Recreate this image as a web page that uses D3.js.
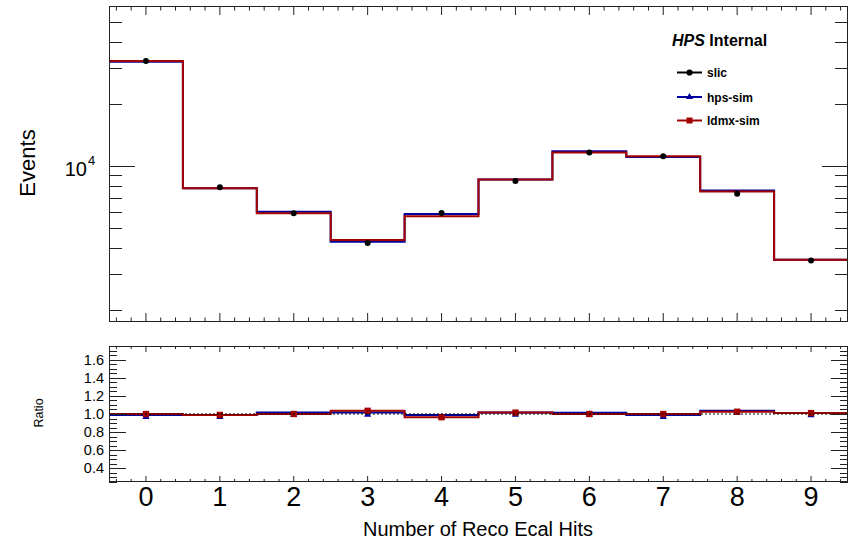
<!DOCTYPE html>
<html>
<head>
<meta charset="utf-8">
<script src="https://cdn.jsdelivr.net/npm/d3@7"></script>
<style>
  body { margin: 0; background: #fff; }
  text { font-family: "Liberation Sans", Arial, Helvetica, sans-serif; fill: #000; }
</style>
</head>
<body>
<svg id="chart" width="853" height="542"></svg>
<script>
// values
var bins = [0, 1, 2, 3, 4, 5, 6, 7, 8, 9];
var xTickLabels = ['0', '1', '2', '3', '4', '5', '6', '7', '8', '9'];
var slic    = [32430, 7880, 5900, 4220, 5910, 8460, 11630, 11170, 7340, 3470];
var hpsSim  = [32110, 7800, 5990, 4285, 5850, 8590, 11800, 11060, 7600, 3505];
var ldmxSim = [32430, 7800, 5900, 4370, 5700, 8590, 11630, 11170, 7525, 3505];
var ratioTickLabels = [0.4, 0.6, 0.8, 1.0, 1.2, 1.4, 1.6];
var legendNames = ['slic', 'hps-sim', 'ldmx-sim'];

var RED = '#a30000', BLUE = '#0000a0', AXIS = '#222';

var svg = d3.select('#chart');
var L = 109, R = 848, T1 = 6, B1 = 322, T2 = 346, B2 = 482;

var x = d3.scaleLinear().domain([-0.5, 9.5]).range([L, R]);
var y = d3.scaleLog().domain([1745, 59950]).range([B1, T1]);
var yr = d3.scaleLinear().domain([0.25, 1.75]).range([B2, T2]);

// clip paths for the two pads
var defs = svg.append('defs');
defs.append('clipPath').attr('id', 'clipTop').append('rect')
    .attr('x', L).attr('y', T1).attr('width', R - L).attr('height', B1 - T1);
defs.append('clipPath').attr('id', 'clipBot').append('rect')
    .attr('x', L).attr('y', T2).attr('width', R - L).attr('height', B2 - T2);

function stepData(vals) {
  var pts = bins.map(function(b, i) { return [b - 0.5, vals[i]]; });
  pts.push([bins[bins.length - 1] + 0.5, vals[vals.length - 1]]);
  return pts;
}
function stepLine(sy) {
  return d3.line().x(function(d) { return x(d[0]); })
    .y(function(d) { return sy(d[1]); }).curve(d3.curveStepAfter);
}

// ticks: draw for both sides of a pad
function xTicks(t, b, majLen, minLen) {
  var g = svg.append('g').attr('stroke', AXIS).attr('stroke-width', 1);
  var minor = x.ticks(50), major = x.ticks(10);
  [[b, -1], [t, 1]].forEach(function(side) {
    g.selectAll(null).data(minor).enter().append('line')
      .attr('x1', function(d) { return x(d); }).attr('x2', function(d) { return x(d); })
      .attr('y1', side[0]).attr('y2', function(d) {
        return side[0] + side[1] * (major.indexOf(d) >= 0 ? majLen : minLen);
      });
  });
}
function yTicks(scale, vals, isMajor, majLen, minLen) {
  var g = svg.append('g').attr('stroke', AXIS).attr('stroke-width', 1);
  [[L, 1], [R, -1]].forEach(function(side) {
    g.selectAll(null).data(vals).enter().append('line')
      .attr('y1', function(d) { return Math.round(scale(d)) + 0.5; })
      .attr('y2', function(d) { return Math.round(scale(d)) + 0.5; })
      .attr('x1', side[0]).attr('x2', function(d) {
        return side[0] + side[1] * (isMajor(d) ? majLen : minLen);
      });
  });
}

// ---------- upper pad ----------
var topPad = svg.append('g').attr('clip-path', 'url(#clipTop)');
topPad.append('path').datum(stepData(hpsSim)).attr('d', stepLine(y))
  .attr('fill', 'none').attr('stroke', BLUE).attr('stroke-width', 2);
topPad.append('path').datum(stepData(ldmxSim)).attr('d', stepLine(y))
  .attr('fill', 'none').attr('stroke', RED).attr('stroke-width', 2);
topPad.selectAll('circle.slic').data(slic).enter().append('circle')
  .attr('cx', function(d, i) { return x(bins[i]); })
  .attr('cy', function(d) { return y(d); })
  .attr('r', 3).attr('fill', '#000');

xTicks(T1, B1, 9, 4.5);
yTicks(y, y.ticks(), function(d) { return d === 10000; }, 26, 13);
svg.append('rect').attr('x', L + 0.5).attr('y', T1 + 0.5)
  .attr('width', R - L - 1).attr('height', B1 - T1 - 1)
  .attr('fill', 'none').attr('stroke', AXIS).attr('stroke-width', 1);

// 10^4 label
svg.append('text').attr('x', 87).attr('y', y(10000) + 10)
  .attr('text-anchor', 'end').attr('font-size', 20).text('10');
svg.append('text').attr('x', 88).attr('y', y(10000) - 1)
  .attr('font-size', 13).text('4');

svg.append('text').attr('transform', 'translate(35,163) rotate(-90)')
  .attr('text-anchor', 'middle').attr('font-size', 22).text('Events');

// legend
var lg = svg.append('g');
var ht = lg.append('text').attr('x', 672).attr('y', 46)
  .attr('font-size', 16).attr('font-weight', 'bold');
ht.append('tspan').attr('font-style', 'italic').text('HPS');
ht.append('tspan').text(' Internal');

var legColors = ['#000', BLUE, RED];
var legSym = [d3.symbolCircle, d3.symbolTriangle, d3.symbolSquare];
var legSize = [30, 22, 36];
var legY = [72.5, 97, 120.5];
legendNames.forEach(function(n, i) {
  lg.append('line').attr('x1', 677).attr('x2', 702)
    .attr('y1', legY[i]).attr('y2', legY[i])
    .attr('stroke', legColors[i]).attr('stroke-width', 2);
  lg.append('path').attr('d', d3.symbol(legSym[i], legSize[i])())
    .attr('transform', 'translate(689.5,' + legY[i] + ')')
    .attr('fill', legColors[i]);
  lg.append('text').attr('x', 707).attr('y', legY[i] + 4.5)
    .attr('font-size', 12).attr('font-weight', 'bold').text(n);
});

// ---------- ratio pad ----------
var hpsRatio = hpsSim.map(function(v, i) { return v / slic[i]; });
var ldmxRatio = ldmxSim.map(function(v, i) { return v / slic[i]; });

var botPad = svg.append('g').attr('clip-path', 'url(#clipBot)');
botPad.append('path').datum(stepData(hpsRatio)).attr('d', stepLine(yr))
  .attr('fill', 'none').attr('stroke', BLUE).attr('stroke-width', 2);
botPad.selectAll('path.tri').data(hpsRatio).enter().append('path')
  .attr('d', d3.symbol(d3.symbolTriangle, 22)())
  .attr('transform', function(d, i) { return 'translate(' + x(bins[i]) + ',' + (yr(d) + 2) + ')'; })
  .attr('fill', BLUE);
botPad.append('path').datum(stepData(ldmxRatio)).attr('d', stepLine(yr))
  .attr('fill', 'none').attr('stroke', RED).attr('stroke-width', 2);
botPad.selectAll('path.sq').data(ldmxRatio).enter().append('path')
  .attr('d', d3.symbol(d3.symbolSquare, 40)())
  .attr('transform', function(d, i) { return 'translate(' + x(bins[i]) + ',' + yr(d) + ')'; })
  .attr('fill', RED);
botPad.append('line').attr('x1', L).attr('x2', R)
  .attr('y1', yr(1)).attr('y2', yr(1))
  .attr('stroke', '#000').attr('stroke-width', 1.2).attr('stroke-dasharray', '2,2');

xTicks(T2, B2, 6, 3);
yTicks(yr, yr.ticks(30), function(d) {
  return ratioTickLabels.some(function(t) { return Math.abs(t - d) < 1e-6; });
}, 17, 8);
svg.append('rect').attr('x', L + 0.5).attr('y', T2 + 0.5)
  .attr('width', R - L - 1).attr('height', B2 - T2 - 1)
  .attr('fill', 'none').attr('stroke', AXIS).attr('stroke-width', 1);

svg.selectAll('text.rl').data(ratioTickLabels).enter().append('text')
  .attr('x', 104).attr('y', function(d) { return yr(d) + 5; })
  .attr('text-anchor', 'end').attr('font-size', 14.5)
  .text(function(d) { return d3.format('.1f')(d); });

svg.append('text').attr('transform', 'translate(43,413) rotate(-90)')
  .attr('text-anchor', 'middle').attr('font-size', 12.5).text('Ratio');

// x labels
svg.selectAll('text.xl').data(bins).enter().append('text')
  .attr('x', function(d) { return x(d); }).attr('y', 506)
  .attr('text-anchor', 'middle').attr('font-size', 27)
  .text(function(d, i) { return xTickLabels[i]; });

svg.append('text').attr('x', 478).attr('y', 536)
  .attr('text-anchor', 'middle').attr('font-size', 20)
  .text('Number of Reco Ecal Hits');
</script>
</body>
</html>
